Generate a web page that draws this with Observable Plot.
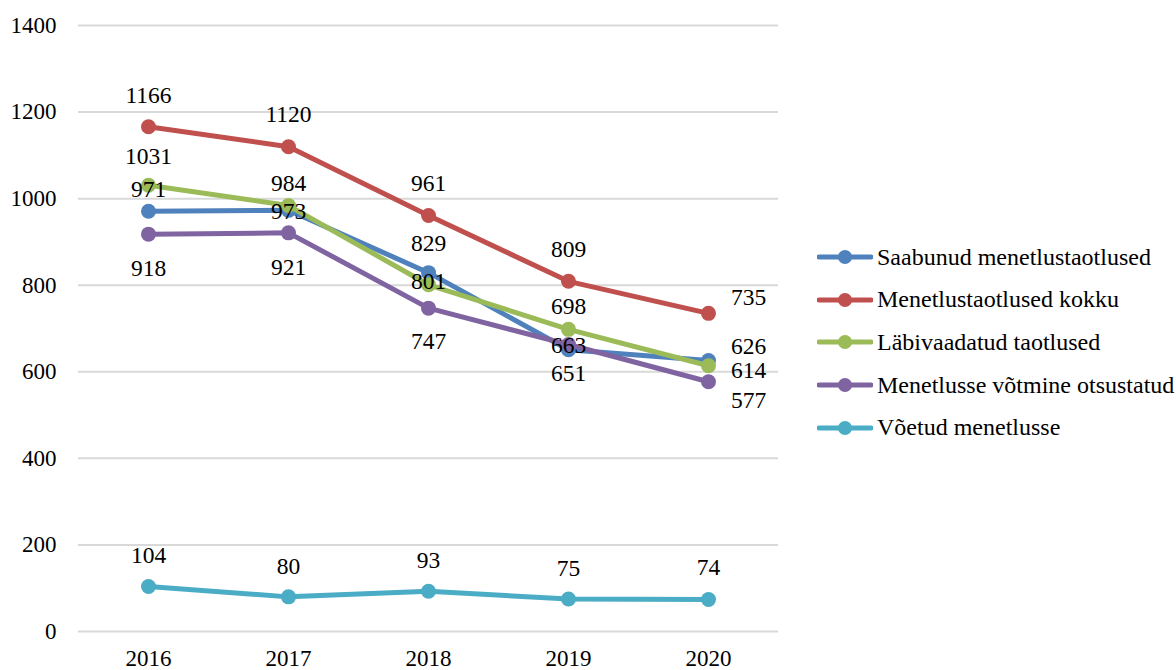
<!DOCTYPE html>
<html>
<head>
<meta charset="utf-8">
<script src="https://cdn.jsdelivr.net/npm/d3@7"></script>
<script src="https://cdn.jsdelivr.net/npm/@observablehq/plot@0.6"></script>
</head>
<body style="margin:0;padding:0;background:#fff">
<div id="wrap" style="position:relative;width:1176px;height:670px;font-family:'Liberation Serif'"><div id="legend" style="position:absolute;left:817px;top:236px;font-family:'Liberation Serif'"></div></div>
<script>
const years = ["2016", "2017", "2018", "2019", "2020"];
const seriesNames = [
  "Saabunud menetlustaotlused",
  "Menetlustaotlused kokku",
  "Läbivaadatud taotlused",
  "Menetlusse võtmine otsustatud",
  "Võetud menetlusse"
];
const saabunud = [971, 973, 829, 651, 626];
const kokku = [1166, 1120, 961, 809, 735];
const labivaadatud = [1031, 984, 801, 698, 614];
const otsustatud = [918, 921, 747, 663, 577];
const voetud = [104, 80, 93, 75, 74];
const seriesValues = [saabunud, kokku, labivaadatud, otsustatud, voetud];
const yTicks = [0, 200, 400, 600, 800, 1000, 1200, 1400];

const colors = ["#4F81BD", "#C0504D", "#9BBB59", "#8064A2", "#4BACC6"];
// data label offsets (pixels) per series, per year
const labelDx = [
  [0, 0, 0, 0, 40],
  [0, 0, 0, 0, 40],
  [0, 0, 0, 0, 40],
  [0, 0, 0, 0, 40],
  [0, 0, 0, 0, 0]
];
const labelDy = [
  [-22, 1, -29, 24, -14],
  [-31, -32, -32, -32, -16],
  [-29, -22, -3, -23, 5],
  [34, 35, 33, 1, 19],
  [-31, -30, -31, -31, -32]
];

const FONT = "'Liberation Serif'";
const rows = [];
seriesNames.forEach((s, i) => years.forEach((y, j) => rows.push({series: s, si: i, yj: j, year: y, value: seriesValues[i][j]})));

const marks = [
  Plot.gridY(yTicks, {stroke: "#d9d9d9", strokeOpacity: 1, strokeWidth: 2}),
  Plot.axisY(yTicks, {tickSize: 0, tickPadding: 22, fontSize: 23, fill: "#000", tickFormat: d => String(d)}),
  Plot.axisX(years, {tickSize: 0, tickPadding: 18, fontSize: 23, fill: "#000"})
];
seriesNames.forEach((s, i) => {
  const d = rows.filter(r => r.si === i);
  marks.push(Plot.lineY(d, {x: "year", y: "value", stroke: colors[i], strokeWidth: 5, strokeLinejoin: "round", strokeLinecap: "round"}));
  marks.push(Plot.dot(d, {x: "year", y: "value", r: 7.5, fill: colors[i], stroke: "none"}));
});
rows.forEach(r => {
  marks.push(Plot.text([r], {x: "year", y: "value", text: d => String(d.value), dx: labelDx[r.si][r.yj], dy: labelDy[r.si][r.yj], fontSize: 23.5, fill: "#000", textAnchor: "middle", lineAnchor: "middle"}));
});

const chart = Plot.plot({
  width: 1176,
  height: 670,
  marginLeft: 78,
  marginRight: 398,
  marginTop: 25,
  marginBottom: 39,
  style: {fontFamily: FONT, fontSize: "23px", color: "#000", background: "#fff", overflow: "visible"},
  x: {type: "point", domain: years, padding: 0.5, label: null},
  y: {domain: [0, 1400], label: null},
  marks
});
chart.style.fontFamily = FONT;
chart.querySelectorAll("text, g").forEach(el => { el.style.fontFamily = FONT; });
document.getElementById("wrap").prepend(chart);

const legend = document.getElementById("legend");
seriesNames.forEach((s, i) => {
  const item = document.createElement("div");
  item.style.cssText = "display:flex;align-items:center;height:42.6px;font-size:24px;color:#000;white-space:nowrap;font-family:'Liberation Serif'";
  item.innerHTML = `<svg width="56" height="16" style="margin-right:4px"><line x1="2" y1="8" x2="54" y2="8" stroke="${colors[i]}" stroke-width="5" stroke-linecap="round"/><circle cx="28" cy="8" r="7" fill="${colors[i]}"/></svg><span style="font-family:'Liberation Serif'">${s}</span>`;
  legend.appendChild(item);
});
</script>
</body>
</html>
